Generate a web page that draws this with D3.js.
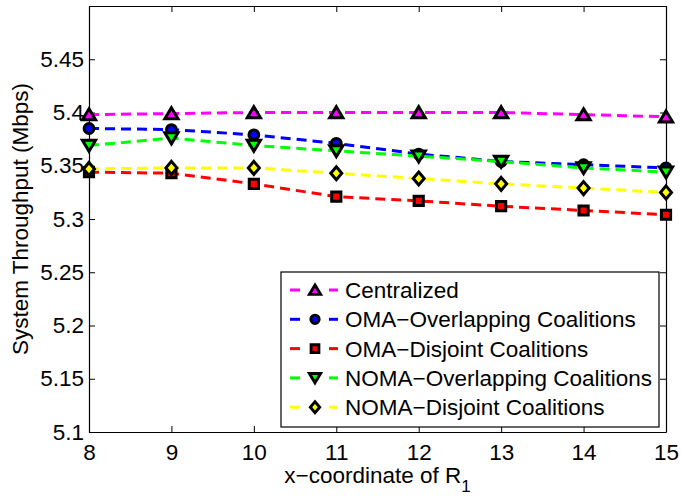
<!DOCTYPE html>
<html>
<head>
<meta charset="utf-8">
<script src="https://cdn.jsdelivr.net/npm/d3@7"></script>
<style>
  html, body { margin: 0; padding: 0; background: #fff; }
  svg { display: block; }
  text { font-family: "Liberation Sans", Arial, Helvetica, sans-serif; fill: #000; }
</style>
</head>
<body>
<svg id="chart" width="681" height="499"></svg>
<script>
// x positions of relay R1
const xValues = [8, 9, 10, 11, 12, 13, 14, 15];

// system throughput (Mbps) per scheme
const centralized  = [5.398, 5.399, 5.400, 5.400, 5.400, 5.400, 5.398, 5.396];
const omaOverlap   = [5.385, 5.384, 5.379, 5.371, 5.361, 5.354, 5.351, 5.348];
const omaDisjoint  = [5.344, 5.343, 5.333, 5.321, 5.317, 5.312, 5.308, 5.304];
const nomaOverlap  = [5.369, 5.376, 5.369, 5.364, 5.359, 5.354, 5.348, 5.344];
const nomaDisjoint = [5.347, 5.348, 5.348, 5.343, 5.338, 5.333, 5.329, 5.325];

const seriesNames = [
  "Centralized",
  "OMA\u2212Overlapping Coalitions",
  "OMA\u2212Disjoint Coalitions",
  "NOMA\u2212Overlapping Coalitions",
  "NOMA\u2212Disjoint Coalitions"
];
const seriesColors = ["#ff00ff", "#0000ff", "#ff0000", "#00ff00", "#ffff00"];
const seriesMarkers = ["triUp", "circle", "square", "triDown", "diamond"];
const seriesValues = [centralized, omaOverlap, omaDisjoint, nomaOverlap, nomaDisjoint];

const xTickValues = [8, 9, 10, 11, 12, 13, 14, 15];
const yTickValues = [5.1, 5.15, 5.2, 5.25, 5.3, 5.35, 5.4, 5.45, 5.5];
const yTickLabels = ["5.1", "5.15", "5.2", "5.25", "5.3", "5.35", "5.4", "5.45", ""];

const svg = d3.select("#chart");
const plot = { left: 89, right: 666, top: 6, bottom: 432 };

const x = d3.scaleLinear().domain([8, 15]).range([plot.left, plot.right]);
const y = d3.scaleLinear().domain([5.1, 5.5]).range([plot.bottom, plot.top]);

const fontSize = 22.5;
const tickLen = 6;

// axes: bottom/left with labels, top/right as mirrored inward ticks
const axisBottom = d3.axisBottom(x).tickValues(xTickValues).tickSizeInner(-tickLen).tickSizeOuter(0).tickPadding(12).tickFormat(d3.format("d"));
const axisTop = d3.axisTop(x).tickValues(xTickValues).tickSizeInner(-tickLen).tickSizeOuter(0).tickFormat("");
const axisLeft = d3.axisLeft(y).tickValues(yTickValues).tickSizeInner(-tickLen).tickSizeOuter(0).tickPadding(5)
  .tickFormat((d, i) => yTickLabels[i]);
const axisRight = d3.axisRight(y).tickValues(yTickValues).tickSizeInner(-tickLen).tickSizeOuter(0).tickFormat("");

function styleAxis(g) {
  g.selectAll(".domain").attr("stroke", "#000").attr("stroke-width", 1.2);
  g.selectAll(".tick line").attr("stroke", "#000").attr("stroke-width", 1);
  g.selectAll(".tick text").style("font-size", fontSize + "px")
    .style("font-family", "'Liberation Sans', Arial, sans-serif").attr("fill", "#000");
}

svg.append("g").attr("transform", `translate(0,${plot.bottom})`).call(axisBottom).call(styleAxis);
svg.append("g").attr("transform", `translate(0,${plot.top})`).call(axisTop).call(styleAxis);
svg.append("g").attr("transform", `translate(${plot.left},0)`).call(axisLeft).call(styleAxis);
svg.append("g").attr("transform", `translate(${plot.right},0)`).call(axisRight).call(styleAxis);

// axis titles
svg.append("text")
  .attr("transform", `translate(28,${(plot.top + plot.bottom) / 2}) rotate(-90)`)
  .attr("text-anchor", "middle")
  .style("font-size", fontSize + "px")
  .text("System Throughput (Mbps)");

const xTitle = svg.append("text")
  .attr("x", (plot.left + plot.right) / 2)
  .attr("y", 483)
  .attr("text-anchor", "middle")
  .style("font-size", fontSize + "px");
xTitle.append("tspan").text("x\u2212coordinate of R");
xTitle.append("tspan").attr("dy", 9).style("font-size", "17px").text("1");

// marker path generators (centred on 0,0)
function markerPath(kind) {
  switch (kind) {
    case "triUp":   return "M0,-5.8 L6.6,5.2 L-6.6,5.2 Z";
    case "triDown": return "M0,5.8 L6.6,-5.2 L-6.6,-5.2 Z";
    case "square":  return "M-4.6,-4.6 L4.6,-4.6 L4.6,4.6 L-4.6,4.6 Z";
    case "diamond": return "M0,-6.5 L5.5,0 L0,6.5 L-5.5,0 Z";
    case "circle":  return d3.arc()({ innerRadius: 0, outerRadius: 4.9, startAngle: 0, endAngle: 2 * Math.PI });
  }
}

const line = d3.line().x(d => x(d[0])).y(d => y(d[1]));

seriesValues.forEach((vals, si) => {
  const pts = xValues.map((xv, i) => [xv, vals[i]]);
  const g = svg.append("g");
  g.append("path")
    .datum(pts)
    .attr("d", line)
    .attr("fill", "none")
    .attr("stroke", seriesColors[si])
    .attr("stroke-width", 3)
    .attr("stroke-dasharray", "10,6");
  g.selectAll("path.marker")
    .data(pts)
    .join("path")
    .attr("class", "marker")
    .attr("transform", d => `translate(${x(d[0])},${y(d[1])})`)
    .attr("d", markerPath(seriesMarkers[si]))
    .attr("fill", seriesColors[si])
    .attr("stroke", "#000")
    .attr("stroke-width", 3)
    .attr("stroke-linejoin", "miter");
});

// legend
const legend = { left: 281, top: 272, width: 378, height: 155, rowStart: 290, rowStep: 29.3 };
const lg = svg.append("g");
lg.append("rect")
  .attr("x", legend.left).attr("y", legend.top)
  .attr("width", legend.width).attr("height", legend.height)
  .attr("fill", "#fff").attr("stroke", "#000").attr("stroke-width", 1.2);

seriesNames.forEach((name, si) => {
  const cy = legend.rowStart + si * legend.rowStep;
  const row = lg.append("g");
  [[290, 300], [329, 338]].forEach(([a, b]) => {
    row.append("line")
      .attr("x1", a).attr("x2", b).attr("y1", cy).attr("y2", cy)
      .attr("stroke", seriesColors[si]).attr("stroke-width", 3);
  });
  row.append("path")
    .attr("transform", `translate(315,${cy}) scale(0.85)`)
    .attr("d", markerPath(seriesMarkers[si]))
    .attr("fill", seriesColors[si])
    .attr("stroke", "#000")
    .attr("stroke-width", 3.4);
  row.append("text")
    .attr("x", 345).attr("y", cy + 8)
    .style("font-size", fontSize + "px")
    .text(name);
});
</script>
</body>
</html>
